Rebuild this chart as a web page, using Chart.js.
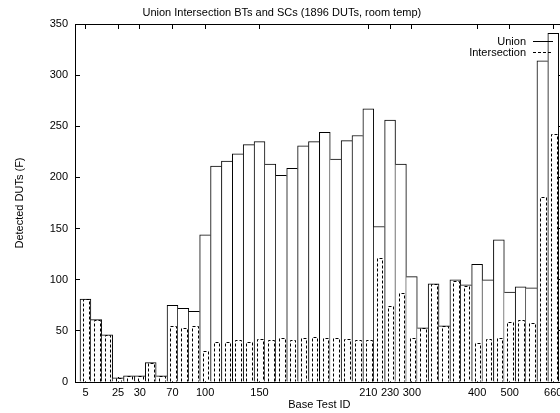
<!DOCTYPE html>
<html><head><meta charset="utf-8">
<script src="https://cdn.jsdelivr.net/npm/chart.js@4/dist/chart.umd.min.js"></script>
<style>
html,body{margin:0;padding:0;background:#fff;overflow:hidden;width:560px;height:413px}
#wrap{position:relative;width:640px;height:413px}
</style>
</head><body><div id="wrap"><canvas id="c" width="640" height="413"></canvas></div>
<script>
// Base Test ID tick labels (one entry per bar; '' = unlabeled)
const tickLabels = ['5','','','25','','30','','','70','','','100','','','','','150','','','','','','','','','','210','','230','','300','','','','','','400','','','500','','','','660'];
// Detected DUTs (F)
const unionVals = [81,61,46,4,6,6,19,6,75,72,69,144,211,216,223,232,235,213,202,209,231,235,244,218,236,241,267,152,256,213,103,53,96,55,100,95,115,100,139,88,93,92,314,341];
const interVals = [81,61,46,4,6,6,19,6,55,53,55,30,39,39,41,39,42,41,43,41,43,44,43,43,42,41,41,121,74,87,43,53,96,55,99,94,38,42,43,59,61,58,181,242];
const seriesNames = ['Union','Intersection'];
const titleText = 'Union Intersection BTs and SCs (1896 DUTs, room temp)';
const xTitle = 'Base Test ID';
const yTitle = 'Detected DUTs (F)';
const yMin = 0, yMax = 350, yStep = 50;

const tickIdx = tickLabels.map((t,i)=>t!==''?i:-1).filter(i=>i>=0);
const FONT = {family:'"Liberation Sans", Arial, sans-serif', size:11};
Chart.defaults.font.family = FONT.family;
Chart.defaults.font.size = 11;
Chart.defaults.color = '#000';

const xMin = -0.96, xMax = unionVals.length - 1 + 0.96;

const dashPlugin = {
  id:'dashBars',
  afterDatasetsDraw(chart){
    const ctx = chart.ctx;
    const meta = chart.getDatasetMeta(1);
    ctx.save();
    ctx.strokeStyle = '#000';
    ctx.lineWidth = 1;
    ctx.setLineDash([3,2]);
    meta.data.forEach(el=>{
      const p = el.getProps(['x','y','base','width'], true);
      const l = Math.round(p.x - p.width/2 + 1) + 0.5;
      const r = Math.round(p.x + p.width/2 + 1) - 0.5;
      const t = Math.round(p.y) + 0.5;
      ctx.beginPath();
      ctx.moveTo(l, p.base);
      ctx.lineTo(l, t);
      ctx.lineTo(r, t);
      ctx.lineTo(r, p.base);
      ctx.stroke();
    });
    // key (inside, top right)
    const a = chart.chartArea;
    ctx.font = '11px ' + FONT.family;
    ctx.fillStyle = '#000';
    ctx.textAlign = 'right';
    ctx.textBaseline = 'middle';
    chart.data.datasets.forEach((ds,i)=>{
      const yy = Math.round(a.top + 16.7 + i*11) + 0.5;
      ctx.setLineDash([]);
      ctx.fillText(ds.label, a.right - 37.7, yy);
      ctx.setLineDash(i===0?[]:[3,2]);
      ctx.beginPath();
      ctx.moveTo(a.right - 30.7, yy);
      ctx.lineTo(a.right - 10.7, yy);
      ctx.stroke();
    });
    ctx.restore();
  }
};

function unionBorder(c){
  const i = c.dataIndex, v = unionVals;
  if (i === undefined) return 1;
  return {
    top:1, bottom:0,
    left: (i===0 || v[i] >= v[i-1]) ? 1 : 0,
    right: (i===v.length-1 || v[i] > v[i+1]) ? 1 : 0
  };
}

const setTicks = s => { s.ticks = tickIdx.map(v=>({value:v})); };

new Chart(document.getElementById('c'), {
  type:'bar',
  data:{
    datasets:[
      {label:seriesNames[0], data:unionVals.map((v,i)=>({x:i,y:v})), backgroundColor:'#fff', borderColor:'#000', borderWidth:unionBorder, barPercentage:1, categoryPercentage:1, grouped:false, order:2},
      {label:seriesNames[1], data:interVals.map((v,i)=>({x:i,y:v})), backgroundColor:'rgba(0,0,0,0)', borderColor:'rgba(0,0,0,0)', borderWidth:0, barPercentage:0.6, categoryPercentage:1, grouped:false, order:1}
    ]
  },
  options:{
    responsive:false, animation:false, devicePixelRatio:1,
    layout:{padding:{left:0, right:76.3, top:0, bottom:0}},
    plugins:{
      legend:{display:false}, tooltip:{enabled:false},
      title:{display:true, text:titleText, color:'#000', font:{size:11, weight:'normal'}, padding:{top:6, bottom:4.8}}
    },
    scales:{
      x:{type:'linear', position:'bottom', min:xMin, max:xMax, offset:false,
         afterBuildTicks:setTicks, afterFit:s=>{s.height=31;},
         ticks:{autoSkip:false, maxRotation:0, padding:9, color:'#000', callback:v=>tickLabels[v]},
         grid:{offset:false, drawOnChartArea:false, tickLength:-5, color:'#000'},
         border:{color:'#000', width:1},
         title:{display:true, text:xTitle, color:'#000', padding:{top:0, bottom:1.4}}},
      x2:{type:'linear', position:'top', min:xMin, max:xMax, offset:false,
         afterBuildTicks:setTicks, afterFit:s=>{s.height=0;},
         ticks:{display:false},
         grid:{offset:false, drawOnChartArea:false, tickLength:-5, color:'#000'},
         border:{color:'#000', width:1}},
      y:{position:'left', min:yMin, max:yMax,
         afterFit:s=>{s.width=75;},
         ticks:{stepSize:yStep, padding:12, color:'#000'},
         grid:{drawOnChartArea:false, tickLength:-5, color:'#000'},
         border:{color:'#000', width:1},
         title:{display:true, text:yTitle, color:'#000', padding:{top:13.4, bottom:0}}},
      y2:{position:'right', min:yMin, max:yMax,
         afterFit:s=>{s.width=0;},
         ticks:{stepSize:yStep, display:false},
         grid:{drawOnChartArea:false, tickLength:-5, color:'#000'},
         border:{color:'#000', width:1}}
    }
  },
  plugins:[dashPlugin]
});
</script>
</body></html>
